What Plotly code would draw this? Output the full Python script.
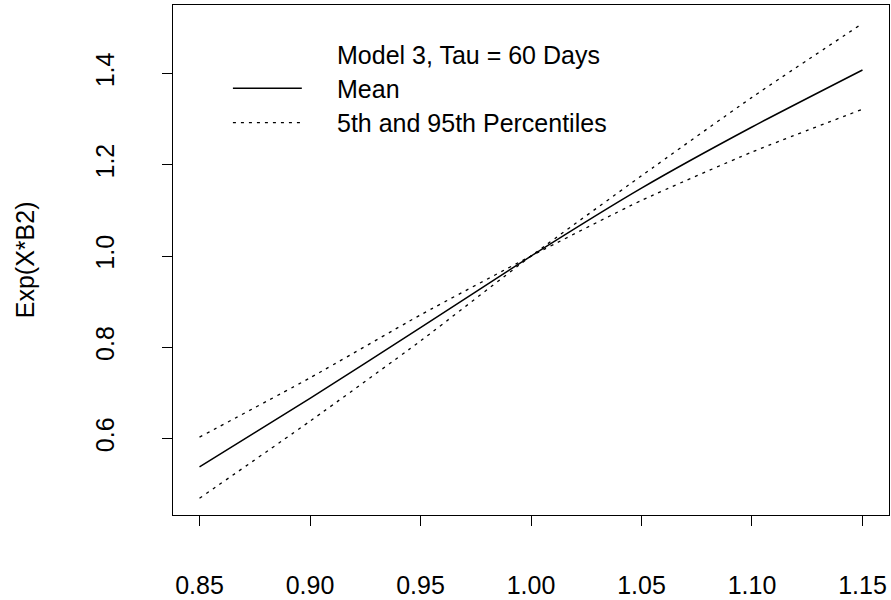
import plotly.graph_objects as go

# Data
x_vals = [0.85, 0.90, 0.95, 1.00, 1.05, 1.10, 1.15]
mean_vals = [0.538, 0.688, 0.843, 1.000, 1.149, 1.283, 1.408]
# the two percentile curves cross at x = 1
pct_a = [0.603, 0.733, 0.871, 1.000, 1.122, 1.228, 1.322]
pct_b = [0.469, 0.638, 0.814, 1.000, 1.176, 1.348, 1.510]

x_ticks = [0.85, 0.90, 0.95, 1.00, 1.05, 1.10, 1.15]
x_ticktext = ["0.85", "0.90", "0.95", "1.00", "1.05", "1.10", "1.15"]
y_ticks = [0.6, 0.8, 1.0, 1.2, 1.4]
y_ticktext = ["0.6", "0.8", "1.0", "1.2", "1.4"]

legend_title = "Model 3, Tau = 60 Days"
legend_labels = ["Mean", "5th and 95th Percentiles"]
y_title = "Exp(X*B2)"

FONT = "Liberation Sans, Arial, sans-serif"
FS = 25
W, H = 891, 600
L, R, T, B = 173, 1, 5, 75
PW, PH = W - L - R, H - T - B

def px(xp):
    return (xp - L) / PW

def py(yp):
    return (H - B - yp) / PH

fig = go.Figure()
fig.add_trace(go.Scatter(x=x_vals, y=mean_vals, mode="lines", line_shape="spline",
                         line=dict(color="black", width=1.5, smoothing=0.6), showlegend=False))
fig.add_trace(go.Scatter(x=x_vals, y=pct_a, mode="lines", line_shape="spline",
                         line=dict(color="black", width=1.3, dash="3px,5px", smoothing=0.6),
                         showlegend=False))
fig.add_trace(go.Scatter(x=x_vals, y=pct_b, mode="lines", line_shape="spline",
                         line=dict(color="black", width=1.3, dash="3px,5px", smoothing=0.6),
                         showlegend=False))

# manual legend (R style, no box)
fig.add_shape(type="line", xref="paper", yref="paper",
              x0=px(233), x1=px(302), y0=py(90), y1=py(90),
              line=dict(color="black", width=1.5))
fig.add_shape(type="line", xref="paper", yref="paper",
              x0=px(233), x1=px(302), y0=py(125), y1=py(125),
              line=dict(color="black", width=1.3, dash="3px,5px"))
for txt, yy in [(legend_title, 56), (legend_labels[0], 91), (legend_labels[1], 125)]:
    fig.add_annotation(text=txt, xref="paper", yref="paper", x=px(335), y=py(yy),
                       xanchor="left", yanchor="middle", showarrow=False,
                       font=dict(family=FONT, size=FS, color="black"))

fig.add_annotation(text=y_title, xref="paper", yref="paper", x=px(25), y=py(265),
                   xanchor="center", yanchor="middle", textangle=-90, showarrow=False,
                   font=dict(family=FONT, size=FS, color="black"))

fig.update_layout(
    width=W, height=H,
    margin=dict(l=L, r=R, t=T, b=B),
    paper_bgcolor="white", plot_bgcolor="white",
    font=dict(family=FONT, size=FS, color="black"),
    xaxis=dict(range=[0.838, 1.162], tickvals=x_ticks, ticktext=x_ticktext,
               ticks="outside", ticklen=10, tickwidth=1, tickcolor="black",
               showline=True, mirror=True, linecolor="black", linewidth=1,
               showgrid=False, zeroline=False, ticklabelstandoff=38),
    yaxis=dict(range=[0.4323, 1.5505], tickvals=y_ticks, ticktext=y_ticktext,
               tickangle=-90,
               ticks="outside", ticklen=10, tickwidth=1, tickcolor="black",
               showline=True, mirror=True, linecolor="black", linewidth=1,
               showgrid=False, zeroline=False, ticklabelstandoff=38),
)

fig.write_html("out.html")
